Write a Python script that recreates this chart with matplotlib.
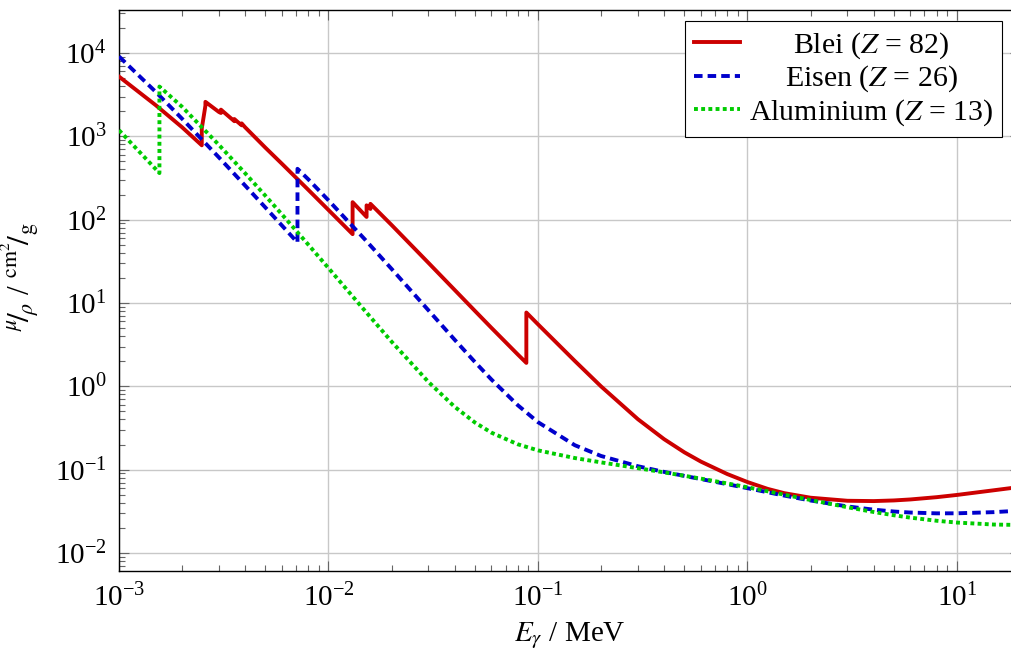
import matplotlib
matplotlib.use('Agg')
import matplotlib.pyplot as plt
from matplotlib.ticker import FixedLocator, NullFormatter, LogFormatterSciNotation

plt.rcParams['font.family'] = ['Liberation Serif', 'DejaVu Serif']
plt.rcParams['mathtext.fontset'] = 'stix'
plt.rcParams['font.size'] = 20

# Photon energy (MeV) and mass attenuation coefficient mu/rho (cm^2/g)
pb_E = [1.0e-3, 1.5e-3, 2.0e-3, 2.484e-3, 2.484e-3, 2.53429e-3, 2.5856e-3, 2.5856e-3,
        3.0e-3, 3.0664e-3, 3.0664e-3, 3.3e-3, 3.5542e-3, 3.5542e-3, 3.69948e-3,
        3.8507e-3, 3.8507e-3, 4.0e-3, 5.0e-3, 6.0e-3, 8.0e-3, 1.0e-2, 1.30352e-2,
        1.30352e-2, 1.5e-2, 1.52e-2, 1.52e-2, 1.55269e-2, 1.58608e-2, 1.58608e-2,
        2.0e-2, 3.0e-2, 4.0e-2, 5.0e-2, 6.0e-2, 8.0e-2, 8.80045e-2, 8.80045e-2,
        1.0e-1, 1.5e-1, 2.0e-1, 3.0e-1, 4.0e-1, 5.0e-1, 6.0e-1, 8.0e-1, 1.0,
        1.25, 1.5, 2.0, 3.0, 4.0, 5.0, 6.0, 8.0, 10.0, 15.0, 20.0]
pb_mu = [5210, 2356, 1285, 780.2, 1243, 1701, 2339, 2592,
         1958, 1905, 2090, 1781, 1518, 1612, 1475,
         1356, 1430, 1284, 730.1, 467.2, 228.7, 130.6, 67.01,
         162.1, 111.6, 107.8, 148.5, 141.6, 134.4, 154.8,
         86.36, 30.32, 14.36, 8.041, 5.021, 2.419, 1.910, 7.683,
         5.549, 2.014, 0.9985, 0.4031, 0.2323, 0.1614, 0.1248, 0.0887, 0.07102,
         0.05876, 0.05222, 0.04606, 0.04234, 0.04197, 0.04272, 0.04391, 0.04675,
         0.04972, 0.05658, 0.06206]

fe_E = [1.0e-3, 1.5e-3, 2.0e-3, 3.0e-3, 4.0e-3, 5.0e-3, 6.0e-3, 7.112e-3, 7.112e-3,
        8.0e-3, 1.0e-2, 1.5e-2, 2.0e-2, 3.0e-2, 4.0e-2, 5.0e-2, 6.0e-2, 8.0e-2,
        1.0e-1, 1.5e-1, 2.0e-1, 3.0e-1, 4.0e-1, 5.0e-1, 6.0e-1, 8.0e-1, 1.0,
        1.25, 1.5, 2.0, 3.0, 4.0, 5.0, 6.0, 8.0, 10.0, 15.0, 20.0]
fe_mu = [9085, 3399, 1626, 557.6, 256.7, 139.8, 84.84, 53.19, 407.6,
         305.6, 170.6, 57.08, 25.68, 8.176, 3.629, 1.958, 1.205, 0.5952,
         0.3717, 0.1964, 0.146, 0.1099, 0.094, 0.08414, 0.07704, 0.06699, 0.05995,
         0.0535, 0.04883, 0.04265, 0.03621, 0.03312, 0.03146, 0.03057, 0.02991,
         0.02994, 0.03092, 0.03224]

al_E = [1.0e-3, 1.5e-3, 1.5596e-3, 1.5596e-3, 2.0e-3, 3.0e-3, 4.0e-3, 5.0e-3, 6.0e-3,
        8.0e-3, 1.0e-2, 1.5e-2, 2.0e-2, 3.0e-2, 4.0e-2, 5.0e-2, 6.0e-2, 8.0e-2,
        1.0e-1, 1.5e-1, 2.0e-1, 3.0e-1, 4.0e-1, 5.0e-1, 6.0e-1, 8.0e-1, 1.0,
        1.25, 1.5, 2.0, 3.0, 4.0, 5.0, 6.0, 8.0, 10.0, 15.0, 20.0]
al_mu = [1185, 402.2, 362.1, 3957, 2263, 788.0, 360.5, 193.4, 115.3,
         50.33, 26.23, 7.955, 3.441, 1.128, 0.5685, 0.3681, 0.2778, 0.2018,
         0.1704, 0.1378, 0.1223, 0.1042, 0.09276, 0.08445, 0.07802, 0.06841, 0.06146,
         0.05496, 0.05006, 0.04324, 0.03541, 0.03106, 0.02836, 0.02655, 0.02437,
         0.02318, 0.02195, 0.02168]

x_ticks = [1e-3, 1e-2, 1e-1, 1e0, 1e1]
y_ticks = [1e-2, 1e-1, 1e0, 1e1, 1e2, 1e3, 1e4]

labels = ['Blei ($Z$ = 82)', 'Eisen ($Z$ = 26)', 'Aluminium ($Z$ = 13)']
colors = ['#cc0000', '#0000cc', '#00cc00']

W, H = 1011, 655
fig = plt.figure(figsize=(W / 100, H / 100), dpi=100)
ax = fig.add_axes([119 / W, (H - 571) / H, (1020 - 119) / W, (571 - 10) / H])

ax.plot(pb_E, pb_mu, color=colors[0], lw=2.8, label=labels[0], zorder=3)
ax.plot(fe_E, fe_mu, color=colors[1], lw=2.8, dashes=(2.2, 1.3), label=labels[1], zorder=3)
ax.plot(al_E, al_mu, color=colors[2], lw=2.8, dashes=(1.0, 0.85), label=labels[2], zorder=3)

ax.set_xscale('log')
ax.set_yscale('log')
xmin, xmax = 1e-3, 20
ymin, ymax = 6.08e-3, 3.28e4
ax.set_xlim(xmin, xmax)
ax.set_ylim(ymin, ymax)

def minors(lo, hi):
    out = []
    d = 10.0 ** int(round(__import__('math').floor(__import__('math').log10(lo))))
    while d < hi:
        for m in range(2, 10):
            v = m * d
            if lo < v < hi:
                out.append(v)
        d *= 10
    return out

ax.xaxis.set_major_locator(FixedLocator(x_ticks))
ax.yaxis.set_major_locator(FixedLocator(y_ticks))
ax.xaxis.set_major_formatter(LogFormatterSciNotation())
ax.yaxis.set_major_formatter(LogFormatterSciNotation())
ax.xaxis.set_minor_locator(FixedLocator(minors(xmin, xmax)))
ax.yaxis.set_minor_locator(FixedLocator(minors(ymin, ymax)))
ax.xaxis.set_minor_formatter(NullFormatter())
ax.yaxis.set_minor_formatter(NullFormatter())

ax.tick_params(which='both', direction='in', top=True, right=True, color='0.4', width=0.8)
ax.tick_params(which='major', length=7, labelsize=21, pad=9)
ax.tick_params(which='minor', length=4.5)
ax.grid(True, which='major', color='#c8c8c8', lw=1.0, zorder=0)
for sp in ax.spines.values():
    sp.set_linewidth(1.0)
    sp.set_color('black')

ax.set_xlabel(r'$E_\gamma$ / MeV', fontsize=21, labelpad=6)
ax.set_ylabel(r'$^{\mu}\!/_{\!\rho}$ / $^{\mathrm{cm}^2}\!/_{\mathrm{g}}$', fontsize=22.5)
ax.yaxis.set_label_coords(-0.087, 0.524)

leg = ax.legend(loc='upper right', bbox_to_anchor=(0.98, 0.98), borderaxespad=0,
                fancybox=False, framealpha=1, edgecolor='black', fontsize=21.5,
                handlelength=1.55, handletextpad=0.3, labelspacing=0.1, borderpad=0.3)
leg.get_frame().set_linewidth(0.8)

# center the legend texts in their column
fig.canvas.draw()
r = fig.canvas.get_renderer()
widths = [t.get_window_extent(r).width for t in leg.get_texts()]
mw = max(widths)
for t, w in zip(leg.get_texts(), widths):
    t.set_x((mw - w) / 2)

fig.savefig('out.png', dpi=100)
